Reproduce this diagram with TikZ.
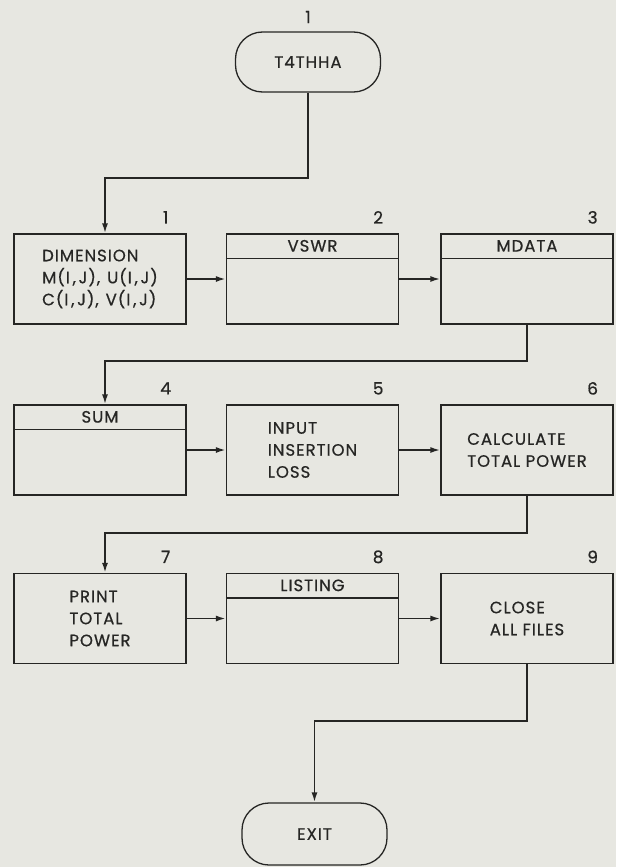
\documentclass[tikz,border=0pt]{standalone}
\usepackage{fontspec}
\setmainfont{Poppins}[LetterSpace=6,FakeBold=0.6]
\usetikzlibrary{arrows.meta}
\definecolor{paper}{RGB}{231,231,225}
\definecolor{ink}{RGB}{38,38,36}
\begin{document}
\begin{tikzpicture}[x=1pt,y=-1pt,
  txt/.style={font=\fontsize{16.5}{22}\selectfont,text=ink},
  box/.style={txt,draw=ink,line width=1.3pt,minimum width=172pt,minimum height=90pt,inner sep=0pt,align=left},
  term/.style={txt,draw=ink,line width=1.3pt,rounded corners=27pt,minimum width=145pt,minimum height=60pt,inner sep=0pt},
  num/.style={txt,font=\fontsize{17}{20}\selectfont},
  flow/.style={draw=ink,line width=1.8pt,-{Latex[length=10pt,width=6pt]}},
  hline/.style={draw=ink,line width=1.3pt}]
\useasboundingbox[fill=paper] (0,0) rectangle (616,867);

% terminals
\node[term] (T) at (308,62) {T4THHA};
\node[num] (nT) at (308,17) {1};
\node[term,minimum height=62pt] (X) at (314.5,834) {EXIT};

% row 1
\node[box] (b1) at (100,279) {DIMENSION\\M(I\,,\,J),\hspace{7pt}U(I\,,\,J)\\C(I\,,\,J),\hspace{7pt}V(I\,,\,J)};
\node[box] (b2) at (312.5,279) {};
\node[box] (b3) at (527,279) {};
% row 2
\node[box] (b4) at (100,450) {};
\node[box] (b5) at (312.5,450) {INPUT\\INSERTION\\LOSS};
\node[box] (b6) at (527,450) {CALCULATE\\TOTAL POWER};
% row 3
\node[box] (b7) at (100,618.5) {PRINT\\TOTAL\\POWER};
\node[box] (b8) at (312.5,618.5) {};
\node[box] (b9) at (527,618.5) {CLOSE\\ALL FILES};

% header strips
\foreach \b/\t in {b2/VSWR,b3/MDATA,b4/SUM,b8/LISTING}{
  \draw[hline] ([yshift=-25pt]\b.north west) -- ([yshift=-25pt]\b.north east);
  \node[txt] (h\b) at ([yshift=-12.5pt]\b.north) {\t};
}

% numbers
\foreach \b/\n in {b1/1,b2/2,b3/3,b4/4,b5/5,b6/6,b7/7,b8/8,b9/9}{
  \node[num] (n\b) at ([xshift=-21pt,yshift=16pt]\b.north east) {\n};
}

% connectors
\draw[flow] (T.south) -- ++(0,85) -| ([xshift=5pt]b1.north);
\draw[flow] (b1.east) -- (b2.west);
\draw[flow] (b2.east) -- (b3.west);
\draw[flow] (b3.south) -- ++(0,36) -| ([xshift=5pt]b4.north);
\draw[flow] (b4.east) -- (b5.west);
\draw[flow] (b5.east) -- (b6.west);
\draw[flow] (b6.south) -- ++(0,37) -| ([xshift=5pt]b7.north);
\draw[flow] (b7.east) -- (b8.west);
\draw[flow] (b8.east) -- (b9.west);
\draw[flow] (b9.south) -- ++(0,57) -| (X.north);
\end{tikzpicture}
\end{document}
